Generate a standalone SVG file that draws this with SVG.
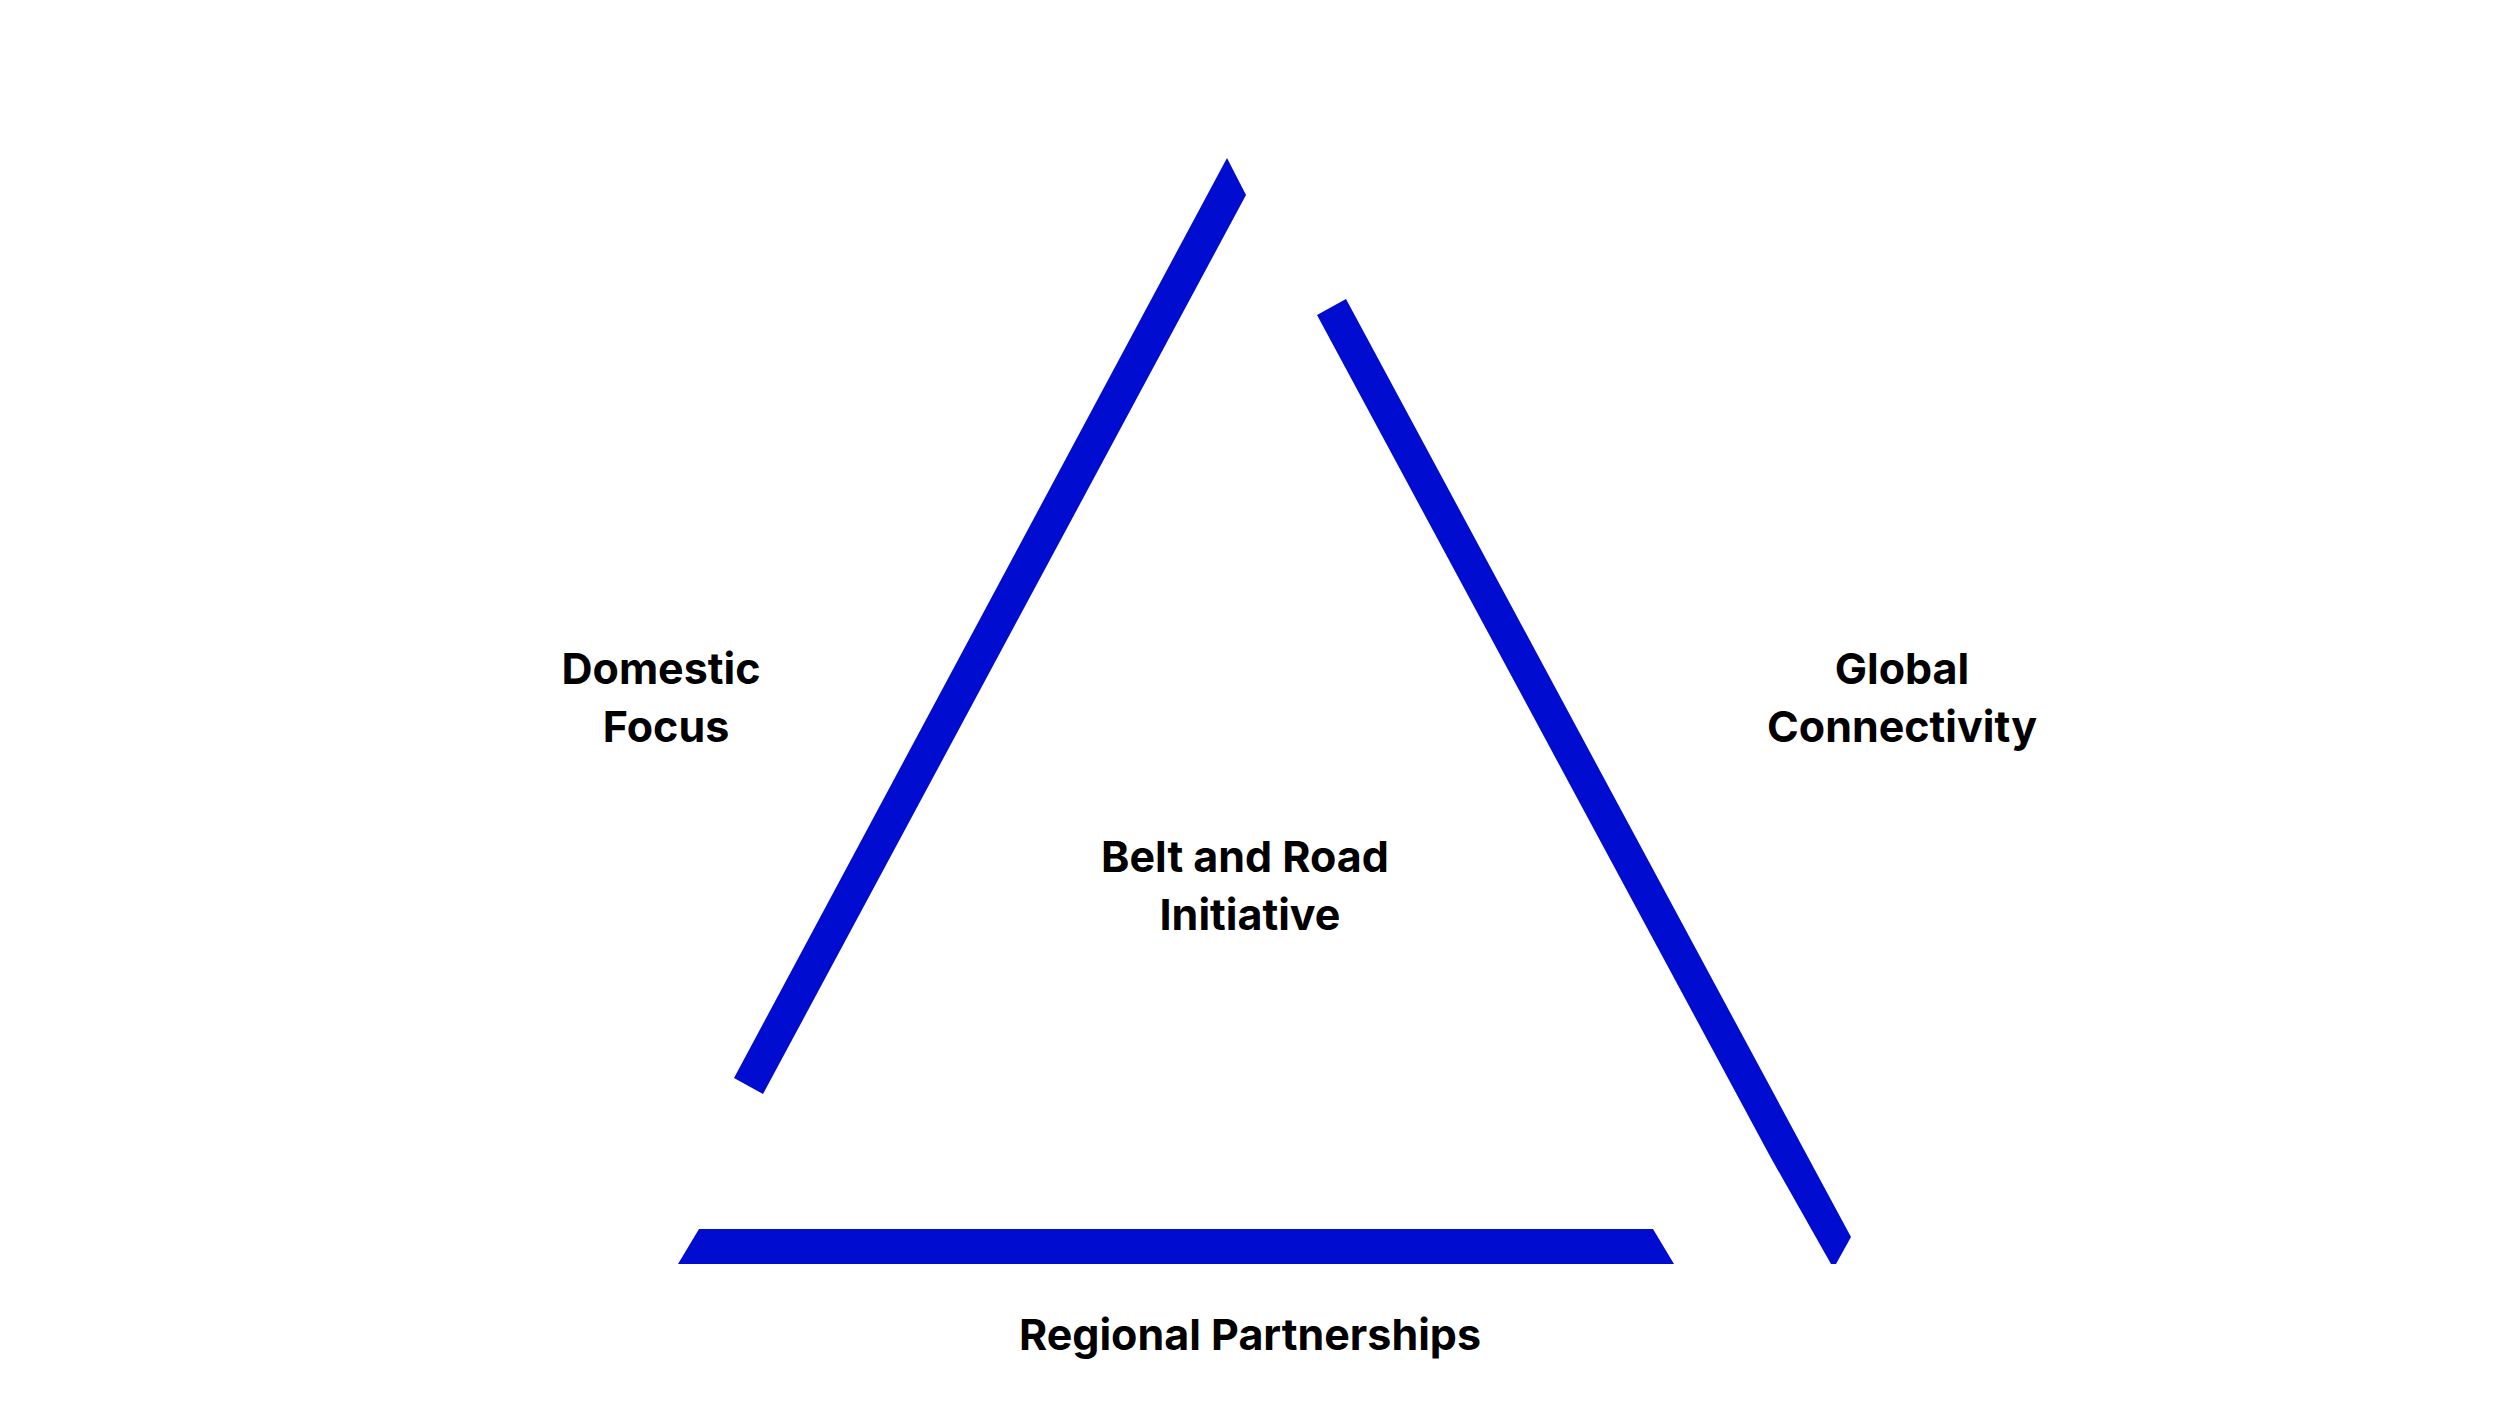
<svg xmlns="http://www.w3.org/2000/svg" width="2496" height="1404" viewBox="0 0 2496 1404">
<style>
.bar{fill:#000ccf}
.t{font-family:Inter,"Liberation Sans",sans-serif;font-weight:700;font-size:43px;fill:#000;text-anchor:middle}
</style>
<rect width="2496" height="1404" fill="#fff"/>
<g id="connectors">
<polygon class="bar" points="1227,158 1246,195 763,1094 734,1078"/>
<polygon class="bar" points="1317,315 1346,299 1851,1237 1836,1264 1831,1264 1771,1158"/>
<polygon class="bar" points="699,1229 1653,1229 1674,1264 678,1264"/>
</g>
<g id="domestic"><text class="t" x="661" y="684">Domestic</text><text class="t" x="666" y="742">Focus</text></g>
<g id="global"><text class="t" x="1902" y="684">Global</text><text class="t" x="1902" y="742">Connectivity</text></g>
<g id="bri"><text class="t" x="1245" y="872">Belt and Road</text><text class="t" x="1250" y="930">Initiative</text></g>
<g id="regional"><text class="t" x="1250" y="1350">Regional Partnerships</text></g>
</svg>
